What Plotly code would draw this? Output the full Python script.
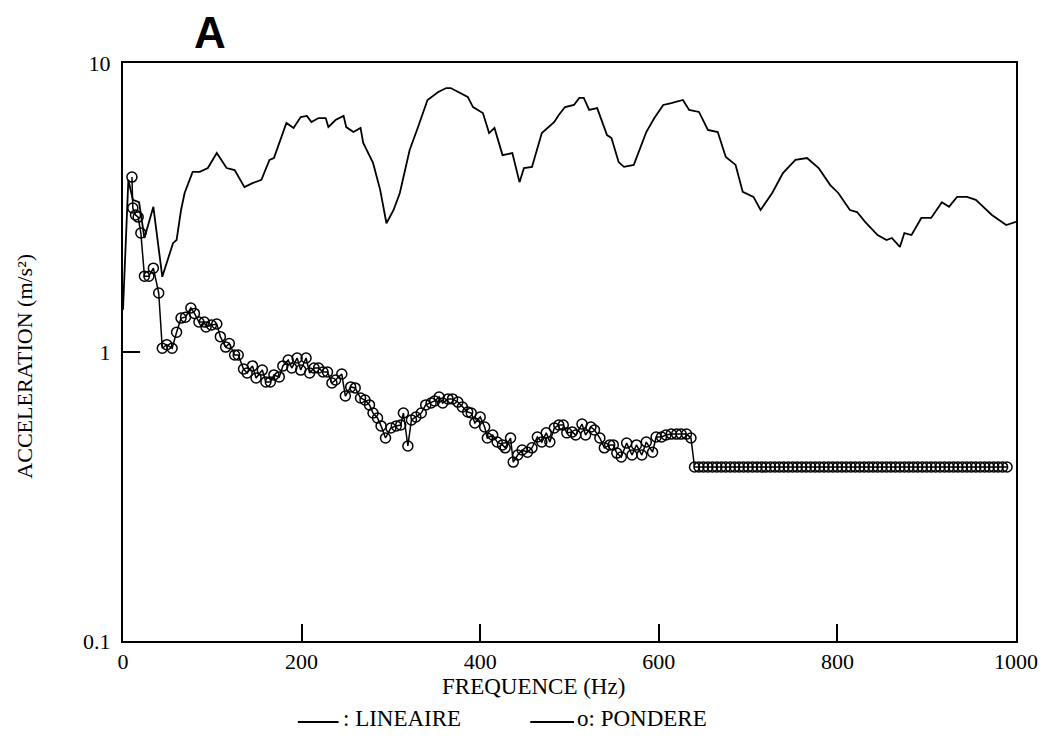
import plotly.graph_objects as go

# LINEAIRE (continuous line)
lin_x = [0, 6, 11, 18, 24, 34, 44, 56, 60, 65, 69, 78, 86, 95, 105, 116, 125, 136, 145, 155,
         164, 169, 183, 191, 199, 206, 211, 219, 227, 230, 238, 247, 250, 258, 266, 269, 280, 288, 295, 303,
         310, 321, 330, 341, 353, 362, 367, 377, 386, 392, 403, 410, 416, 425, 436, 444, 449, 458, 469, 483,
         488, 495, 505, 511, 516, 522, 531, 542, 547, 555, 561, 572, 577, 586, 595, 605, 614, 627, 634, 645,
         655, 666, 675, 686, 694, 706, 714, 727, 739, 753, 766, 779, 792, 801, 814, 822, 831, 845, 855, 861,
         870, 875, 883, 894, 905, 917, 925, 934, 945, 955, 961, 973, 989, 1000]
lin_y = [1.40, 3.94, 3.36, 3.30, 2.48, 3.18, 1.82, 2.38, 2.44, 3.10, 3.55, 4.20, 4.20, 4.33, 4.88, 4.33, 4.26, 3.72, 3.84, 3.94,
         4.62, 4.69, 6.20, 5.96, 6.50, 6.56, 6.25, 6.45, 6.45, 6.00, 6.35, 6.56, 6.00, 5.77, 5.96, 5.29, 4.51, 3.64, 2.79, 3.10,
         3.55, 5.00, 5.96, 7.45, 7.94, 8.19, 8.19, 7.87, 7.63, 7.04, 6.71, 5.72, 5.96, 4.80, 4.88, 3.87, 4.33, 4.37, 5.72, 6.25,
         6.61, 7.04, 7.16, 7.57, 7.57, 6.88, 6.98, 5.63, 5.50, 4.54, 4.37, 4.44, 4.88, 5.77, 6.45, 7.16, 7.27, 7.45, 6.88, 6.77,
         5.87, 5.77, 4.73, 4.44, 3.58, 3.44, 3.10, 3.55, 4.16, 4.62, 4.69, 4.33, 3.78, 3.55, 3.10, 3.05, 2.82, 2.54, 2.44, 2.48,
         2.31, 2.58, 2.54, 2.91, 2.91, 3.30, 3.18, 3.44, 3.44, 3.36, 3.23, 2.98, 2.75, 2.82]

# PONDERE (line with open circle markers)
pond_x = [10, 11, 14, 17, 20, 24, 29, 34, 40, 44, 49, 55, 60, 65, 70, 76, 80, 85, 91, 93,
          99, 105, 109, 115, 119, 125, 129, 135, 139, 145, 149, 156, 160, 165, 169, 175, 179, 185, 189, 195,
          199, 205, 209, 214, 219, 224, 229, 234, 238, 245, 249, 255, 260, 266, 271, 276, 280, 285, 289, 294,
          300, 306, 311, 314, 319, 323, 328, 334, 339, 345, 349, 354, 358, 364, 369, 375, 380, 386, 390, 394,
          400, 405, 408, 414, 419, 425, 428, 434, 437, 442, 447, 453, 458, 464, 469, 474, 478, 483, 488, 493,
          497, 503, 507, 514, 518, 524, 528, 534, 539, 545, 549, 553, 558, 564, 570, 575, 581, 586, 593, 597,
          603, 608, 614, 620, 625, 631, 636,
          640, 645, 650, 655, 660, 665, 670, 675, 680, 685, 690, 695, 700, 705, 710, 715, 720, 725, 730, 735,
          740, 745, 750, 755, 760, 765, 770, 775, 780, 785, 790, 795, 800, 805, 810, 815, 820, 825, 830, 835,
          840, 845, 850, 855, 860, 865, 870, 875, 880, 885, 890, 895, 900, 905, 910, 915, 920, 925, 930, 935,
          940, 945, 950, 955, 960, 965, 970, 975, 980, 985, 990]
pond_y = [4.03, 3.15, 2.98, 2.93, 2.58, 1.83, 1.83, 1.95, 1.60, 1.03, 1.06, 1.03, 1.17, 1.31, 1.32, 1.42, 1.36, 1.27, 1.27, 1.22,
          1.24, 1.25, 1.13, 1.04, 1.07, 0.976, 0.976, 0.873, 0.846, 0.895, 0.813, 0.866, 0.788, 0.788, 0.833, 0.82, 0.895, 0.938, 0.88, 0.953,
          0.866, 0.953, 0.846, 0.88, 0.88, 0.853, 0.853, 0.781, 0.80, 0.839, 0.704, 0.757, 0.751, 0.693, 0.682, 0.656, 0.615, 0.591, 0.555, 0.504,
          0.546, 0.555, 0.559, 0.615, 0.473, 0.582, 0.596, 0.615, 0.656, 0.666, 0.677, 0.699, 0.666, 0.688, 0.688, 0.671, 0.645, 0.62, 0.615, 0.568,
          0.596, 0.55, 0.504, 0.516, 0.488, 0.477, 0.466, 0.504, 0.416, 0.44, 0.458, 0.45, 0.466, 0.508, 0.488, 0.525, 0.488, 0.546, 0.559, 0.559,
          0.525, 0.529, 0.516, 0.563, 0.516, 0.55, 0.537, 0.504, 0.466, 0.477, 0.477, 0.447, 0.433, 0.484, 0.44, 0.477, 0.44, 0.488, 0.45, 0.508,
          0.508, 0.516, 0.52, 0.52, 0.52, 0.52, 0.504,
          0.40, 0.40, 0.40, 0.40, 0.40, 0.40, 0.40, 0.40, 0.40, 0.40, 0.40, 0.40, 0.40, 0.40, 0.40, 0.40, 0.40, 0.40, 0.40, 0.40,
          0.40, 0.40, 0.40, 0.40, 0.40, 0.40, 0.40, 0.40, 0.40, 0.40, 0.40, 0.40, 0.40, 0.40, 0.40, 0.40, 0.40, 0.40, 0.40, 0.40,
          0.40, 0.40, 0.40, 0.40, 0.40, 0.40, 0.40, 0.40, 0.40, 0.40, 0.40, 0.40, 0.40, 0.40, 0.40, 0.40, 0.40, 0.40, 0.40, 0.40,
          0.40, 0.40, 0.40, 0.40, 0.40, 0.40, 0.40, 0.40, 0.40, 0.40, 0.40]

x_tickvals = [0, 200, 400, 600, 800, 1000]
y_tickvals = [0.1, 1, 10]
y_ticktext = ["0.1", "1", "10"]

SERIF = "Liberation Serif"

fig = go.Figure()
fig.add_trace(go.Scatter(x=lin_x, y=lin_y, mode="lines", name=": LINEAIRE",
                         line=dict(color="black", width=1.8)))
fig.add_trace(go.Scatter(x=pond_x, y=pond_y, mode="lines+markers", name="o: PONDERE",
                         line=dict(color="black", width=1.5),
                         marker=dict(symbol="circle-open", size=10, color="black",
                                     line=dict(width=1.5, color="black"))))

fig.update_layout(
    width=1050, height=740,
    margin=dict(l=123, r=28, t=63, b=99),
    paper_bgcolor="white", plot_bgcolor="white",
    showlegend=False,
    font=dict(family=SERIF, color="black", size=22),
    xaxis=dict(range=[0, 1000], tickvals=x_tickvals, ticks="inside", ticklen=17, tickwidth=1.5,
               tickcolor="black", showline=True, linecolor="black", linewidth=2, mirror=True,
               showgrid=False, zeroline=False, tickfont=dict(family=SERIF, size=22)),
    yaxis=dict(type="log", range=[-1, 1], tickvals=y_tickvals, ticktext=y_ticktext,
               ticks="inside", ticklen=17, tickwidth=1.5, tickcolor="black", ticklabelstandoff=6,
               showline=True, linecolor="black", linewidth=2, mirror=True,
               showgrid=False, zeroline=False, tickfont=dict(family=SERIF, size=22)),
)

annotations = [
    dict(text="<b>A</b>", xref="paper", yref="paper", x=0.097, y=1.052, xanchor="center", yanchor="middle",
         showarrow=False, font=dict(family="Liberation Sans", size=44, color="black")),
    dict(text="FREQUENCE (Hz)", xref="paper", yref="paper", x=(536 - 123) / 899, y=(641 - 686) / 578,
         xanchor="center", yanchor="middle", showarrow=False, font=dict(family=SERIF, size=23)),
    dict(text="ACCELERATION (m/s²)", xref="paper", yref="paper", x=(24 - 123) / 899, y=(641 - 366) / 578,
         xanchor="center", yanchor="middle", textangle=-90, showarrow=False, font=dict(family=SERIF, size=22)),
    dict(text=": LINEAIRE", xref="paper", yref="paper", x=(342 - 123) / 899, y=(641 - 718) / 578,
         xanchor="left", yanchor="middle", showarrow=False, font=dict(family=SERIF, size=23)),
    dict(text="o: PONDERE", xref="paper", yref="paper", x=(578 - 123) / 899, y=(641 - 718) / 578,
         xanchor="left", yanchor="middle", showarrow=False, font=dict(family=SERIF, size=23)),
]
fig.update_layout(annotations=annotations)

shapes = [
    dict(type="line", xref="paper", yref="paper", x0=(299 - 123) / 899, x1=(340 - 123) / 899,
         y0=(641 - 722) / 578, y1=(641 - 722) / 578, line=dict(color="black", width=2)),
    dict(type="line", xref="paper", yref="paper", x0=(533 - 123) / 899, x1=(577 - 123) / 899,
         y0=(641 - 722) / 578, y1=(641 - 722) / 578, line=dict(color="black", width=2)),
]
fig.update_layout(shapes=shapes)

fig.write_html("out.html")
